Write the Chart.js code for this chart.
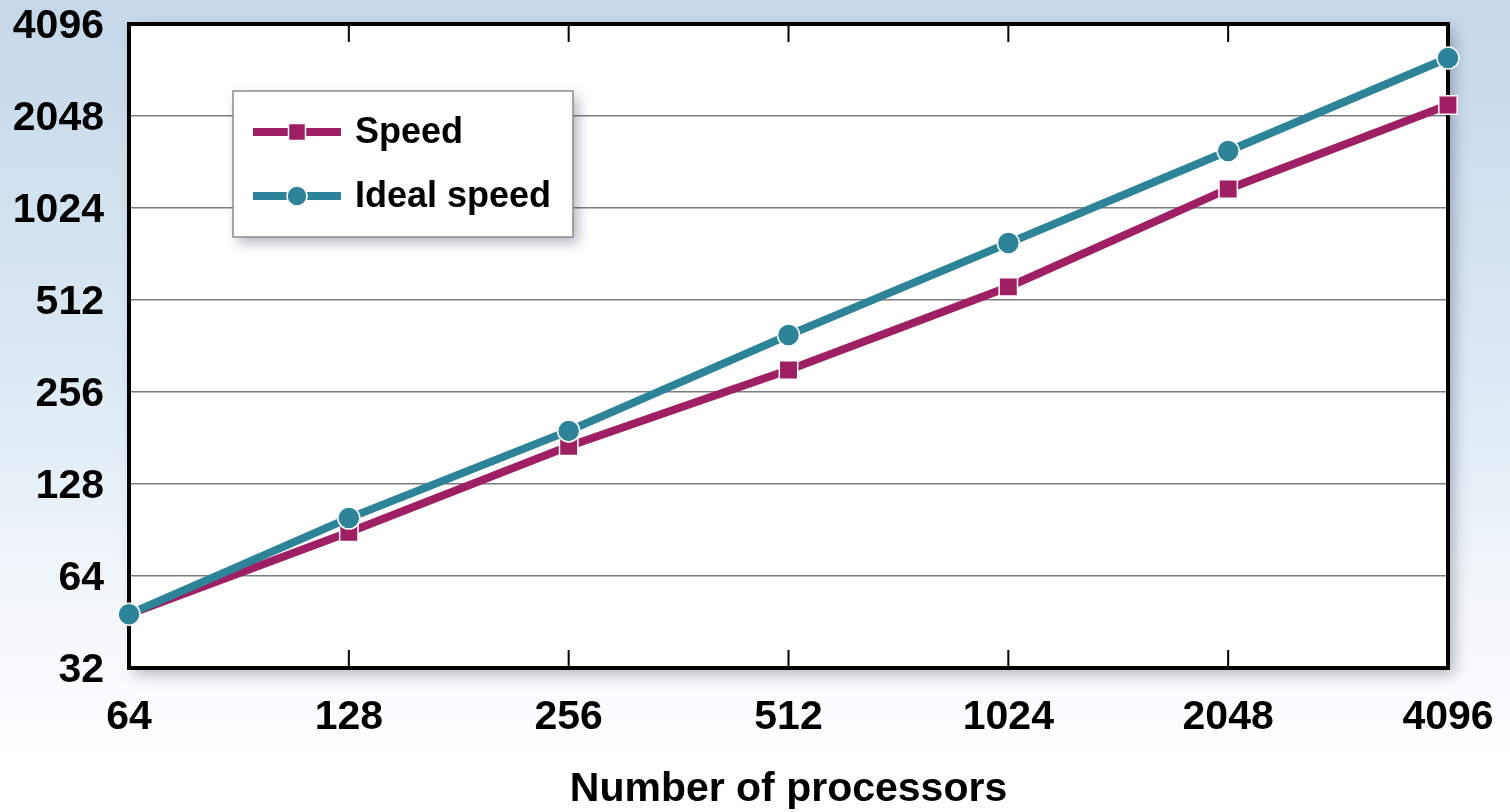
<!DOCTYPE html>
<html><head><meta charset="utf-8">
<script src="https://cdn.jsdelivr.net/npm/chart.js@4/dist/chart.umd.min.js"></script>
<style>
html,body{margin:0;padding:0;width:1510px;height:812px;overflow:hidden;
background:linear-gradient(to bottom,#c4d8ea 0%,#d9e7f2 40%,#f3f7fb 75%,#ffffff 95%);}
canvas{display:block}
</style></head><body>
<canvas id="c" width="1510" height="812"></canvas>
<script>
// ---- data ----
const processors = [64, 128, 256, 512, 1024, 2048, 4096];
const speed      = [48, 89, 170, 302, 565, 1182, 2225];
const idealSpeed = [48, 99, 191, 393, 786, 1573, 3169];
const xTickValues = [64, 128, 256, 512, 1024, 2048, 4096];
const yTickValues = [32, 64, 128, 256, 512, 1024, 2048, 4096];
const seriesNames = ['Speed', 'Ideal speed'];
const xTitle = 'Number of processors';

const MAGENTA = '#9e1f64';
const TEAL = '#2d8499';
const FONT = '"Liberation Sans", Arial, Helvetica, sans-serif';

const toPoints = arr => processors.map((p, i) => ({x: p, y: arr[i]}));

const framePlugin = {
  id: 'frame',
  beforeDraw(chart) {
    const {ctx, chartArea: a} = chart;
    ctx.save();
    ctx.shadowColor = 'rgba(40,50,70,0.35)';
    ctx.shadowBlur = 14; ctx.shadowOffsetX = 6; ctx.shadowOffsetY = 6;
    ctx.fillStyle = '#fff';
    ctx.fillRect(a.left, a.top, a.width, a.height);
    ctx.restore();
  },
  beforeDatasetsDraw(chart) {
    const {ctx, chartArea: a, scales: {x}} = chart;
    ctx.save();
    ctx.strokeStyle = '#000'; ctx.lineWidth = 2;
    x.ticks.forEach(t => {
      const px = x.getPixelForValue(t.value);
      if (px <= a.left + 3 || px >= a.right - 3) return;
      ctx.beginPath();
      ctx.moveTo(px, a.bottom); ctx.lineTo(px, a.bottom - 18);
      ctx.moveTo(px, a.top); ctx.lineTo(px, a.top + 18);
      ctx.stroke();
    });
    ctx.lineWidth = 4;
    ctx.strokeRect(a.left, a.top, a.width, a.height);
    ctx.restore();
  },
  afterDatasetsDraw(chart) {
    const {ctx, chartArea: a} = chart;
    const bx = a.left + 104, by = a.top + 67, bw = 340, bh = 146;
    ctx.save();
    ctx.shadowColor = 'rgba(40,50,70,0.35)';
    ctx.shadowBlur = 12; ctx.shadowOffsetX = 5; ctx.shadowOffsetY = 6;
    ctx.fillStyle = '#fff';
    ctx.fillRect(bx, by, bw, bh);
    ctx.restore();
    ctx.save();
    ctx.strokeStyle = '#8c8c8c'; ctx.lineWidth = 1.5;
    ctx.strokeRect(bx, by, bw, bh);
    const items = [chart.data.datasets[0], chart.data.datasets[1]];
    items.forEach((ds, i) => {
      const cy = by + 41 + i * 64;
      ctx.strokeStyle = ds.borderColor; ctx.lineWidth = 8;
      ctx.beginPath(); ctx.moveTo(bx + 20, cy); ctx.lineTo(bx + 108, cy); ctx.stroke();
      ctx.fillStyle = ds.borderColor; ctx.strokeStyle = '#fff'; ctx.lineWidth = 1.5;
      const mx = bx + 64;
      if (ds.pointStyle === 'rect') {
        ctx.fillRect(mx - 8.5, cy - 8.5, 17, 17);
        ctx.strokeRect(mx - 8.5, cy - 8.5, 17, 17);
      } else {
        ctx.beginPath(); ctx.arc(mx, cy, 10, 0, Math.PI * 2); ctx.fill(); ctx.stroke();
      }
      ctx.fillStyle = '#000';
      ctx.font = 'bold 36px ' + FONT;
      ctx.textBaseline = 'middle'; ctx.textAlign = 'left';
      ctx.fillText(ds.label, bx + 122, cy + 1);
    });
    ctx.restore();
  }
};

new Chart(document.getElementById('c'), {
  type: 'line',
  data: {
    datasets: [
      { label: seriesNames[0], data: toPoints(speed), borderColor: MAGENTA, backgroundColor: MAGENTA,
        borderWidth: 8, pointStyle: 'rect', pointRadius: 13, pointBorderColor: '#fff',
        pointBorderWidth: 1.5, pointBackgroundColor: MAGENTA, clip: false, order: 2, tension: 0 },
      { label: seriesNames[1], data: toPoints(idealSpeed), borderColor: TEAL, backgroundColor: TEAL,
        borderWidth: 8, pointStyle: 'circle', pointRadius: 11, pointBorderColor: '#fff',
        pointBorderWidth: 1.5, pointBackgroundColor: TEAL, clip: false, order: 1, tension: 0 }
    ]
  },
  options: {
    responsive: false, animation: false, devicePixelRatio: 1,
    layout: { padding: { top: 24, right: 62, left: 0, bottom: 0 } },
    plugins: { legend: { display: false }, tooltip: { enabled: false } },
    scales: {
      x: {
        type: 'logarithmic', min: 64, max: 4096,
        afterBuildTicks: s => { s.ticks = xTickValues.map(v => ({value: v})); },
        afterFit: s => { s.height = 144; s.paddingLeft = 0; s.paddingRight = 0; },
        grid: { display: false, drawTicks: false },
        border: { display: false },
        ticks: { autoSkip: false, maxRotation: 0, padding: 25, color: '#000',
                 font: { family: FONT, size: 41, weight: 'bold' }, callback: v => String(v) },
        title: { display: true, text: xTitle, color: '#000', padding: { top: 0, bottom: -2 },
                 font: { family: FONT, size: 41, weight: 'bold' } }
      },
      y: {
        type: 'logarithmic', min: 32, max: 4096,
        afterBuildTicks: s => { s.ticks = yTickValues.map(v => ({value: v})); },
        afterFit: s => { s.width = 129; s.paddingTop = 0; s.paddingBottom = 0; },
        grid: { drawTicks: false, lineWidth: 1.5,
                color: c => (c.tick && (c.tick.value === 32 || c.tick.value === 4096)) ? 'rgba(0,0,0,0)' : '#7d7d7d' },
        border: { display: false },
        ticks: { autoSkip: false, padding: 25, labelOffset: 3, color: '#000',
                 font: { family: FONT, size: 41, weight: 'bold' }, callback: v => String(v) }
      }
    }
  },
  plugins: [framePlugin]
});
</script>
</body></html>
